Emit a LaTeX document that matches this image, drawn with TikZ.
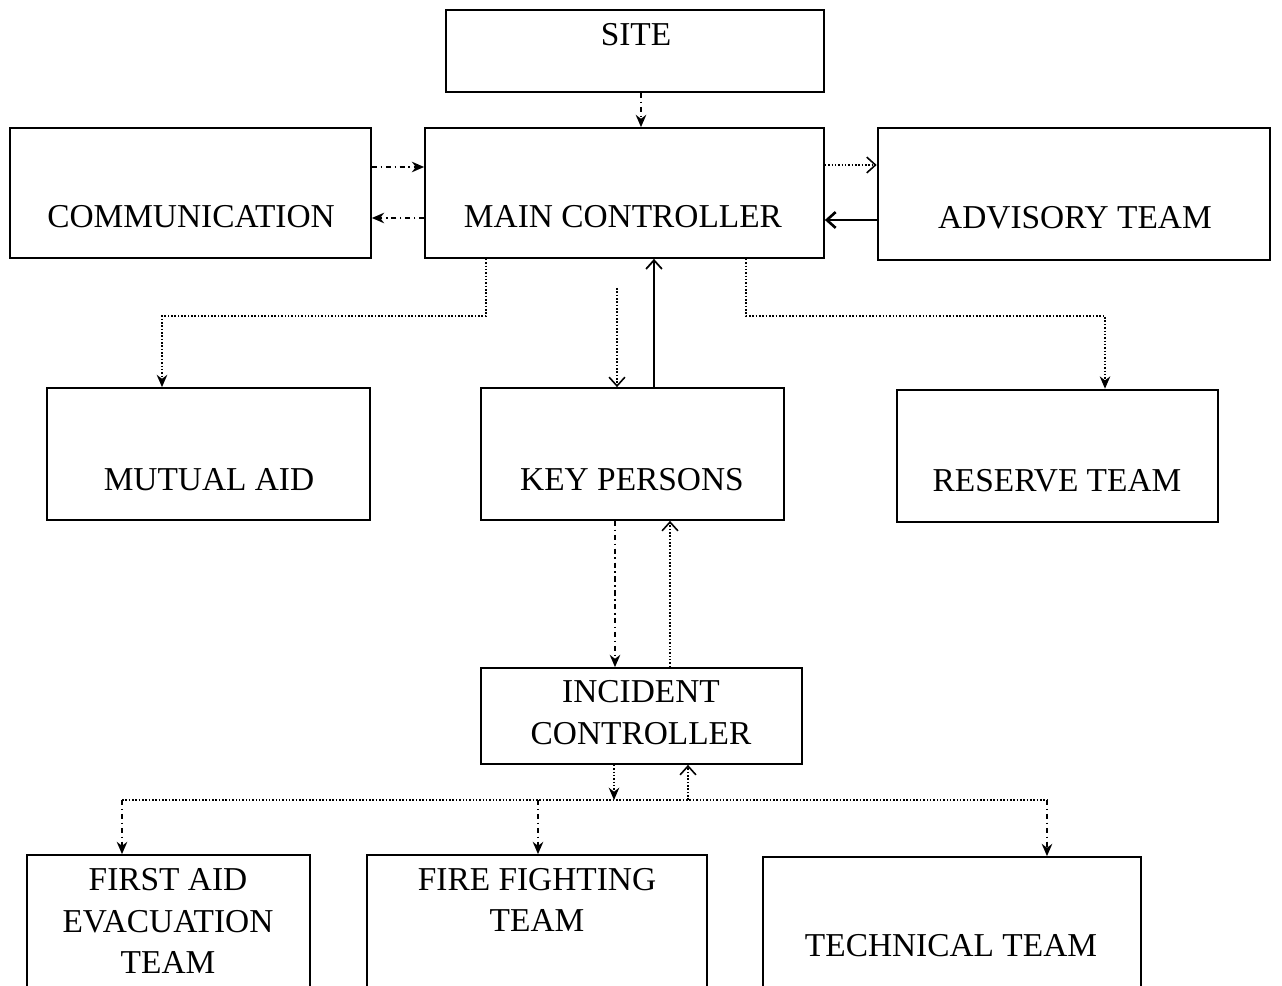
\documentclass[tikz,border=0pt]{standalone}
\usepackage{fontspec}
\setmainfont{Liberation Serif}
\usetikzlibrary{arrows.meta,fit}
\begin{document}
\begin{tikzpicture}[x=0.02cm,y=-0.02cm,
  box/.style={draw, line width=1pt, inner sep=0pt},
  heavybox/.style={box, line width=1.5pt},
  lbl/.style={font=\fontsize{19}{24}\selectfont, align=center, inner sep=0pt},
  con/.style={line width=0.9pt, densely dotted},
  condd/.style={line width=0.9pt, dash dot},
  solidcon/.style={line width=1pt},
  fa/.style={-{Stealth[length=7pt,width=6pt]}},
  oa/.style={-{Straight Barb[length=5pt,width=9pt]}},
]
\useasboundingbox (0,0) rectangle (1282,986);
\fill[white] (0,0) rectangle (1282,986);
\clip (0,0) rectangle (1282,986);

% boxes
\node[box, fit={(446,10)(824,92)}] (site) {};
\node[box, fit={(10,128)(371,258)}] (comm) {};
\node[box, fit={(425,128)(824,258)}] (main) {};
\node[heavybox, fit={(878,128)(1270,260)}] (adv) {};
\node[box, fit={(47,388)(370,520)}] (mutual) {};
\node[box, fit={(481,388)(784,520)}] (key) {};
\node[heavybox, fit={(897,390)(1218,522)}] (reserve) {};
\node[box, fit={(481,668)(802,764)}] (incident) {};
\node[box, fit={(27,855)(310,1010)}] (first) {};
\node[box, fit={(367,855)(707,1010)}] (fire) {};
\node[box, fit={(763,857)(1141,1010)}] (tech) {};

% labels
\node[lbl] (siteT) at (636,35) {SITE};
\node[lbl] (commT) at (191,217) {COMMUNICATION};
\node[lbl] (mainT) at (623,217) {MAIN CONTROLLER};
\node[lbl] (advT) at (1075,218) {ADVISORY TEAM};
\node[lbl] (mutualT) at (209,480) {MUTUAL AID};
\node[lbl] (keyT) at (632,480) {KEY PERSONS};
\node[lbl] (reserveT) at (1057,481) {RESERVE TEAM};
\node[lbl, font=\fontsize{19}{24}\selectfont] (incidentT) at (641,713) {INCIDENT\\CONTROLLER};
\node[lbl, font=\fontsize{19}{23.5}\selectfont] (firstT) at (168,921) {FIRST AID\\EVACUATION\\TEAM};
\node[lbl, font=\fontsize{19}{23}\selectfont] (fireT) at (537,900) {FIRE FIGHTING\\TEAM};
\node[lbl] (techT) at (951,946) {TECHNICAL TEAM};

% helper coordinates
\coordinate (c641) at (641,0);
\coordinate (yA) at (0,167);
\coordinate (yB) at (0,218);
\coordinate (yC) at (0,165);
\coordinate (yD) at (0,220);
\coordinate (kA) at (486,0);
\coordinate (mBus) at (162,316);
\coordinate (kB) at (746,0);
\coordinate (rBus) at (1105,316);
\coordinate (kC) at (617,288);
\coordinate (kD) at (654,0);
\coordinate (kE) at (615,0);
\coordinate (kF) at (670,0);
\coordinate (kG) at (614,0);
\coordinate (kH) at (688,0);
\coordinate (bus) at (0,800);
\coordinate (d1) at (122,800);
\coordinate (d2) at (538,800);
\coordinate (d3) at (1047,800);

% connectors
\draw[condd,fa] (site.south -| c641) -- (main.north -| c641);
\draw[condd,fa] (comm.east |- yA) -- (main.west |- yA);
\draw[condd,fa] (main.west |- yB) -- (comm.east |- yB);
\draw[con,oa] (main.east |- yC) -- (adv.west |- yC);
\draw[solidcon,line width=1.5pt,-{Straight Barb[length=5pt,width=9pt]}] (adv.west |- yD) -- (main.east |- yD);
\draw[con,fa] (main.south -| kA) |- (mBus) -- (mutual.north -| mBus);
\draw[con,fa] (main.south -| kB) |- (rBus) -- (reserve.north -| rBus);
\draw[con,oa] (kC) -- (key.north -| kC);
\draw[solidcon,oa] (key.north -| kD) -- (main.south -| kD);
\draw[condd,fa] (key.south -| kE) -- (incident.north -| kE);
\draw[con,oa] (incident.north -| kF) -- (key.south -| kF);
\draw[con,fa] (incident.south -| kG) -- (kG |- bus);
\draw[con,oa] (kH |- bus) -- (incident.south -| kH);
\draw[con] (d1) -- (d3);
\draw[condd,fa] (d1) -- (first.north -| d1);
\draw[condd,fa] (d2) -- (fire.north -| d2);
\draw[condd,fa] (d3) -- (tech.north -| d3);
\end{tikzpicture}
\end{document}
